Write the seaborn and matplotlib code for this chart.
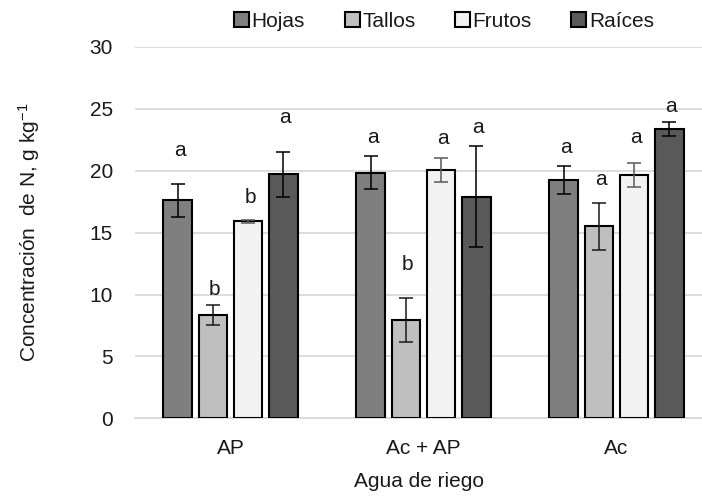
import numpy as np
import pandas as pd
import matplotlib
matplotlib.use("Agg")
import matplotlib.pyplot as plt
import seaborn as sns

# ---- data ----
groups = ["AP", "Ac + AP", "Ac"]
organs = ["Hojas", "Tallos", "Frutos", "Raíces"]
hojas = [17.6, 19.85, 19.25]
tallos = [8.35, 7.95, 15.5]
frutos = [15.9, 20.05, 19.65]
raices = [19.7, 17.9, 23.35]
hojas_err = [1.3, 1.35, 1.1]
tallos_err = [0.8, 1.8, 1.9]
frutos_err = [0.15, 1.0, 1.0]
raices_err = [1.8, 4.1, 0.55]
hojas_letters = ["a", "a", "a"]
tallos_letters = ["b", "b", "a"]
frutos_letters = ["b", "a", "a"]
raices_letters = ["a", "a", "a"]
# heights at which the significance letters sit
hojas_letter_y = [21.6, 22.7, 21.9]
tallos_letter_y = [10.4, 12.4, 19.25]
frutos_letter_y = [17.8, 22.6, 22.7]
raices_letter_y = [24.3, 23.45, 25.2]

values = [hojas, tallos, frutos, raices]
errors = [hojas_err, tallos_err, frutos_err, raices_err]
letters = [hojas_letters, tallos_letters, frutos_letters, raices_letters]
letter_y = [hojas_letter_y, tallos_letter_y, frutos_letter_y, raices_letter_y]

df = pd.DataFrame({
    "grupo": np.tile(groups, len(organs)),
    "organo": np.repeat(organs, len(groups)),
    "valor": np.concatenate(values),
})

colors = ["#7f7f7f", "#bfbfbf", "#f2f2f2", "#595959"]
err_colors = ["#000000", "#1a1a1a", "#595959", "#000000"]

sns.set_theme(style="white")
plt.rcParams["font.family"] = ["Liberation Sans", "DejaVu Sans"]
plt.rcParams["mathtext.fontset"] = "custom"
plt.rcParams["mathtext.rm"] = "Liberation Sans"
plt.rcParams["mathtext.it"] = "Liberation Sans:italic"
plt.rcParams["mathtext.default"] = "regular"

FS = 15
TXT = "#1a1a1a"

fig = plt.figure(figsize=(7.02, 4.98), dpi=100)
ax = fig.add_axes([135 / 702, 1 - 418.3 / 498, (702 - 135) / 702, (418.3 - 46.9) / 498])

sns.barplot(data=df, x="grupo", y="valor", hue="organo", order=groups,
            hue_order=organs, palette=colors, errorbar=None, width=0.73,
            gap=0.19, edgecolor="black", linewidth=1.5, ax=ax, zorder=3)

bar_containers = list(ax.containers)
for i, cont in enumerate(bar_containers):
    xs = [b.get_x() + b.get_width() / 2 for b in cont]
    ys = [b.get_height() for b in cont]
    ax.errorbar(xs, ys, yerr=errors[i], fmt="none", ecolor=err_colors[i],
                elinewidth=1.1, capsize=5, capthick=1.1, zorder=4)
    for x, ly, lt in zip(xs, letter_y[i], letters[i]):
        ax.text(x + 0.01, ly, lt, ha="center", va="center", fontsize=FS, color=TXT)

ax.set_ylim(0, 30)
ax.set_xlim(-0.495, 2.443)
ax.set_yticks([0, 5, 10, 15, 20, 25, 30])
ax.yaxis.grid(True, color="#d9d9d9", linewidth=1.3, zorder=0)
ax.set_axisbelow(True)
for s in ["top", "right", "left"]:
    ax.spines[s].set_visible(False)
ax.spines["bottom"].set_color("#d9d9d9")
ax.spines["bottom"].set_linewidth(1.3)
ax.tick_params(axis="both", length=0, labelsize=FS, labelcolor=TXT)
ax.tick_params(axis="y", pad=16)
ax.tick_params(axis="x", pad=15)

ax.set_xlabel("Agua de riego", fontsize=FS, color=TXT, labelpad=10)
ax.set_ylabel(r"Concentración  de N, g kg$^{-1}$", fontsize=FS, color=TXT, labelpad=34)

sns.move_legend(ax, "center", bbox_to_anchor=(0.545, 1.068), ncol=4,
                frameon=False, title=None, fontsize=FS,
                handlelength=0.72, handleheight=0.72, handletextpad=0.12,
                columnspacing=1.9)
for t in ax.get_legend().get_texts():
    t.set_color(TXT)

fig.savefig("out.png", dpi=100)
